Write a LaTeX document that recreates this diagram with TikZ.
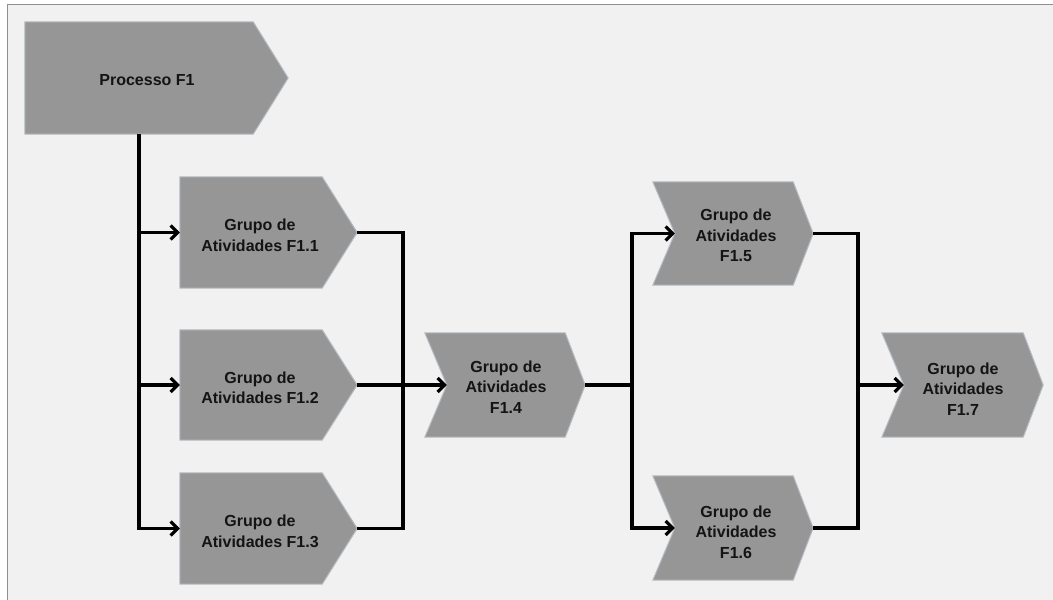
\documentclass[tikz,border=0pt]{standalone}
\usepackage{fontspec}
\setmainfont{Liberation Sans}
\usetikzlibrary{arrows.meta,calc}

\definecolor{paper}{HTML}{F1F1F1}
\definecolor{framecol}{HTML}{8F8F8F}
\definecolor{boxfill}{HTML}{969696}
\definecolor{boxedge}{HTML}{B4BCC4}
\definecolor{ink}{HTML}{141414}

\tikzset{
  blk/.style={draw=none, inner sep=0pt, minimum width=#1},
  shapeline/.style={fill=boxfill, draw=boxedge, line width=1pt, line join=miter},
  lbl/.style={font=\bfseries\fontsize{16}{20.5}\selectfont, text=ink, align=center, inner sep=0pt},
  conn/.style={line width=3.2pt, line join=miter, black},
  arr/.style={conn, -{Straight Barb[length=7pt,width=14pt]}},
}

\begin{document}
\begin{tikzpicture}[x=1pt, y=-1pt]
  \useasboundingbox (0,0) rectangle (1053,600);
  % page and frame
  \fill[white] (0,0) rectangle (1053,600);
  \fill[paper] (7.5,4.5) rectangle (1053,600);
  \draw[framecol, line width=1.8pt] (7.5,600) -- (7.5,4.5) -- (1053,4.5);

  % bounding blocks of the process shapes
  \node[blk=263pt, minimum height=112pt] (p1)  at (156.5,78) {};
  \node[blk=177pt, minimum height=111pt] (f11) at (268.5,232.5) {};
  \node[blk=177pt, minimum height=110pt] (f12) at (268.5,385) {};
  \node[blk=177pt, minimum height=111pt] (f13) at (268.5,528.5) {};
  \node[blk=160pt, minimum height=104pt] (f14) at (505,385) {};
  \node[blk=160pt, minimum height=103pt] (f15) at (733,233.5) {};
  \node[blk=160pt, minimum height=104pt] (f16) at (733,528) {};
  \node[blk=161pt, minimum height=104pt] (f17) at (962.5,385) {};

  % pentagons (first level)
  \foreach \n in {p1,f11,f12,f13}{
    \filldraw[shapeline] (\n.north west) -- ([xshift=-35pt]\n.north east) -- (\n.east)
      -- ([xshift=-35pt]\n.south east) -- (\n.south west) -- cycle;
  }
  % chevrons (following steps)
  \foreach \n in {f14,f15,f16,f17}{
    \filldraw[shapeline] (\n.north west) -- ([xshift=-20pt]\n.north east) -- (\n.east)
      -- ([xshift=-20pt]\n.south east) -- (\n.south west) -- ([xshift=22pt]\n.west) -- cycle;
  }

  % labels
  \node[lbl] (tp1)  at (147,80)    {Processo F1};
  \node[lbl] (t11)  at (260,235.5) {Grupo de\\Atividades F1.1};
  \node[lbl] (t12)  at (260,388)   {Grupo de\\Atividades F1.2};
  \node[lbl] (t13)  at (260,531.5) {Grupo de\\Atividades F1.3};
  \node[lbl] (t14)  at (506,387)   {Grupo de\\Atividades\\F1.4};
  \node[lbl] (t15)  at (736,235.5) {Grupo de\\Atividades\\F1.5};
  \node[lbl] (t16)  at (736,532)   {Grupo de\\Atividades\\F1.6};
  \node[lbl] (t17)  at (963,389)   {Grupo de\\Atividades\\F1.7};

  % bus lines
  \coordinate (trunkA) at (139,0);
  \coordinate (mergeA) at (403,0);
  \coordinate (splitB) at (632,0);
  \coordinate (mergeB) at (858,0);

  % Processo F1 -> F1.1, F1.2, F1.3
  \draw[arr] (p1.south -| trunkA) |- (f13.west);
  \draw[arr] (trunkA |- f11.west) -- (f11.west);
  \draw[arr] (trunkA |- f12.west) -- (f12.west);

  % F1.1, F1.2, F1.3 -> F1.4
  \draw[conn] (f11.east) -| (f13.east -| mergeA) -- (f13.east);
  \draw[arr] (f12.east) -- ([xshift=22pt]f14.west);

  % F1.4 -> F1.5, F1.6
  \draw[arr] (f14.east) -- (splitB |- f14.east) |- ([xshift=22pt]f15.west);
  \draw[arr] (splitB |- f14.east) |- ([xshift=22pt]f16.west);

  % F1.5, F1.6 -> F1.7
  \draw[conn] (f15.east) -| (f16.east -| mergeB) -- (f16.east);
  \draw[arr] (mergeB |- f17.west) -- ([xshift=22pt]f17.west);
\end{tikzpicture}
\end{document}
